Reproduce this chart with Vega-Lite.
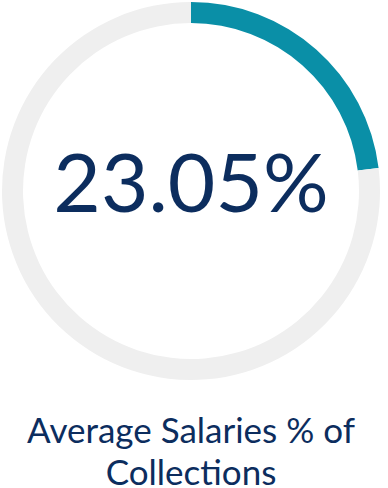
{
  "$schema": "https://vega.github.io/schema/vega-lite/v6.json",
  "width": 382,
  "height": 382,
  "autosize": "none",
  "padding": {"left": 0, "top": 0, "right": 6, "bottom": 106},
  "background": "white",
  "config": {"view": {"stroke": null}},
  "layer": [
    {
      "data": {"values": [
        {"segment": "Average Salaries", "value": 23.05},
        {"segment": "Remainder", "value": 76.95}
      ]},
      "mark": {"type": "arc", "outerRadius": 189, "innerRadius": 168},
      "encoding": {
        "theta": {"field": "value", "type": "quantitative", "stack": true},
        "color": {"field": "segment", "type": "nominal", "scale": {"domain": ["Average Salaries", "Remainder"], "range": ["#0A8FA7", "#EFEFEF"]}, "legend": null},
        "order": {"field": "value", "type": "quantitative", "sort": "ascending"}
      }
    },
    {
      "data": {"values": [{"label": "23.05%"}]},
      "mark": {"type": "text", "font": "Lato", "fontSize": 82, "color": "#0C2D5E", "align": "center", "baseline": "alphabetic", "dy": 21},
      "encoding": {"text": {"field": "label", "type": "nominal"}}
    },
    {
      "data": {"values": [{"label": "Average Salaries % of\nCollections"}]},
      "mark": {"type": "text", "font": "Lato", "fontSize": 35, "lineHeight": 42, "lineBreak": "\n", "color": "#0C2D5E", "align": "center", "baseline": "alphabetic", "dy": 252},
      "encoding": {"text": {"field": "label", "type": "nominal"}}
    }
  ]
}
